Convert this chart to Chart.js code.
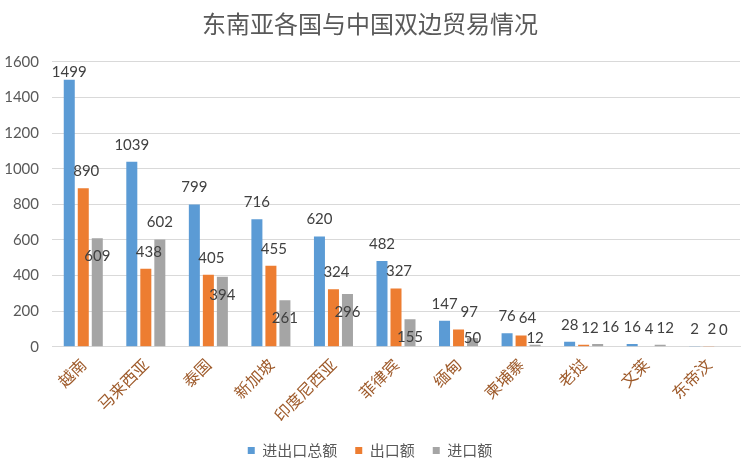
<!DOCTYPE html>
<html lang="zh">
<head>
    <meta charset="UTF-8">
    <title>东南亚各国与中国双边贸易情况</title>
    <script src="https://cdn.jsdelivr.net/npm/chart.js"></script>
    <style>
        html, body { margin: 0; padding: 0; background: #ffffff; }
        .chart-box { position: relative; width: 756px; height: 468px; }
    </style>
</head>
<body>
    <div class="chart-box">
        <canvas id="tradeChart"></canvas>
    </div>

    <script>
        // data
        const countries = ['越南', '马来西亚', '泰国', '新加坡', '印度尼西亚', '菲律宾', '缅甸', '柬埔寨', '老挝', '文莱', '东帝汶'];
        const totalTrade = [1499, 1039, 799, 716, 620, 482, 147, 76, 28, 16, 2];
        const exportsCN = [890, 438, 405, 455, 324, 327, 97, 64, 12, 4, 2];
        const importsCN = [609, 602, 394, 261, 296, 155, 50, 12, 16, 12, 0];
        const seriesNames = ['进出口总额', '出口额', '进口额'];
        const yTicks = [0, 200, 400, 600, 800, 1000, 1200, 1400, 1600];

        const CJK = "'Noto Sans CJK SC', 'Noto Sans', sans-serif";
        const NUM = "Lato, 'Noto Sans', sans-serif";

        // value labels above the bar end; the gray label drops inside its bar
        // when the orange neighbour is taller, and crowded labels get pushed right
        const valueLabels = {
            id: 'valueLabels',
            afterDatasetsDraw(chart) {
                const ctx = chart.ctx;
                const area = chart.chartArea;
                ctx.save();
                ctx.font = '15px ' + NUM;
                ctx.fillStyle = '#404040';
                ctx.textAlign = 'center';
                ctx.textBaseline = 'middle';
                const metas = chart.data.datasets.map((ds, di) => chart.getDatasetMeta(di));
                countries.forEach((c, i) => {
                    let prev = null;
                    chart.data.datasets.forEach((ds, di) => {
                        const bar = metas[di].data[i];
                        const v = ds.data[i];
                        const w = ctx.measureText(String(v)).width;
                        let y = Math.max(bar.y - 17, area.top + 10);
                        let x = bar.x + (di === 1 ? 3 : 0);
                        if (di === 2 && v < exportsCN[i] && v > 0) {
                            y = Math.min(bar.y + 18, area.bottom - 9);
                        }
                        if (prev && Math.abs(prev.y - y) < 12 && x - w / 2 < prev.right + 3) {
                            x = prev.right + 3 + w / 2;
                        }
                        ctx.fillText(String(v), x, y);
                        prev = { right: x + w / 2, y: y };
                    });
                });
                ctx.restore();
            }
        };

        new Chart(document.getElementById('tradeChart'), {
            type: 'bar',
            data: {
                labels: countries,
                datasets: [
                    { label: seriesNames[0], data: totalTrade, backgroundColor: '#5B9BD5' },
                    { label: seriesNames[1], data: exportsCN, backgroundColor: '#ED7D31' },
                    { label: seriesNames[2], data: importsCN, backgroundColor: '#A5A5A5' }
                ]
            },
            options: {
                responsive: true,
                maintainAspectRatio: false,
                animation: false,
                layout: { padding: { left: 0, right: 16, top: 0, bottom: 0 } },
                datasets: {
                    bar: { categoryPercentage: 0.672, barPercentage: 0.786 }
                },
                plugins: {
                    title: {
                        display: true,
                        text: '东南亚各国与中国双边贸易情况',
                        color: '#595959',
                        font: { family: CJK, size: 24, weight: 'normal' },
                        padding: { top: 9, bottom: 24 }
                    },
                    legend: {
                        position: 'bottom',
                        labels: {
                            color: '#595959',
                            font: { family: CJK, size: 15 },
                            boxWidth: 7,
                            boxHeight: 7,
                            padding: 18
                        }
                    },
                    tooltip: { enabled: false }
                },
                scales: {
                    x: {
                        grid: { display: false },
                        border: { color: '#d9d9d9' },
                        ticks: {
                            color: '#9E5A2A',
                            font: { family: CJK, size: 16 },
                            maxRotation: 45,
                            minRotation: 45,
                            padding: 0
                        }
                    },
                    y: {
                        min: 0,
                        max: 1600,
                        afterFit: (scale) => { scale.width = 52; },
                        afterBuildTicks: (scale) => { scale.ticks = yTicks.map(v => ({ value: v })); },
                        grid: { color: '#d9d9d9', drawTicks: false },
                        border: { display: false },
                        ticks: {
                            color: '#595959',
                            font: { family: NUM, size: 15 },
                            padding: 13,
                            callback: (v) => String(v)
                        }
                    }
                }
            },
            plugins: [valueLabels]
        });
    </script>
</body>
</html>
